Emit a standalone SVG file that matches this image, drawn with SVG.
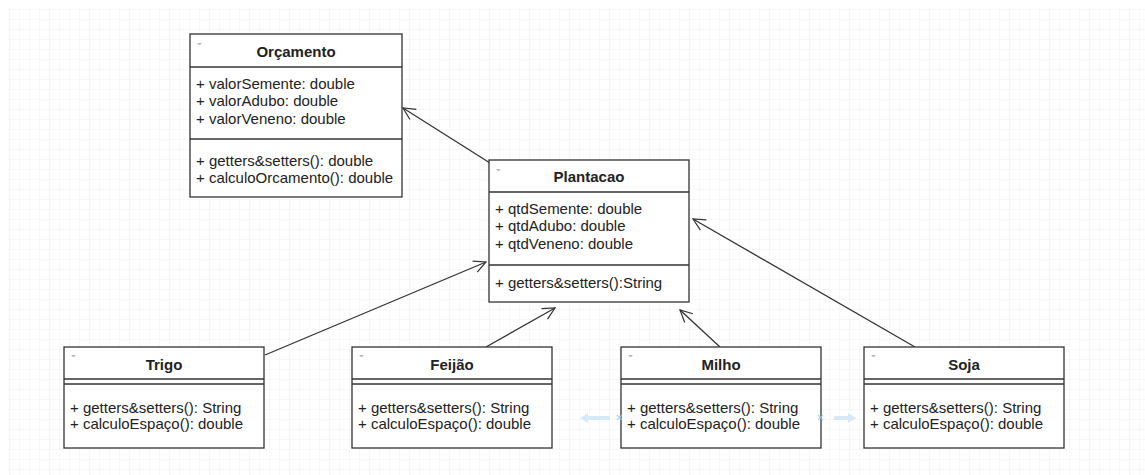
<svg xmlns="http://www.w3.org/2000/svg" width="1145" height="475" viewBox="0 0 1145 475">
  <defs>
    <pattern id="minor" width="10" height="10" patternUnits="userSpaceOnUse">
      <path d="M10 0V10M0 10H10" fill="none" stroke="#f0f0f0" stroke-width="1"/>
    </pattern>
    <pattern id="major" x="-10" y="10" width="50" height="50" patternUnits="userSpaceOnUse">
      <rect width="50" height="50" fill="url(#minor)"/>
      <path d="M50.5 0V50M0 50.5H50" fill="none" stroke="#e0e0e0" stroke-width="1"/>
    </pattern>
    <marker id="open" viewBox="0 0 14 14" refX="13" refY="7" markerWidth="14" markerHeight="14" markerUnits="userSpaceOnUse" orient="auto">
      <path d="M1 1L13 7L1 13" fill="none" stroke="#333" stroke-width="1.2"/>
    </marker>
  </defs>
  <style>
    .box { fill: #fff; stroke: #333; stroke-width: 1.3; }
    .sep { stroke: #333; stroke-width: 1.3; }
    .title { font-family: "Liberation Sans", Arial, sans-serif; font-size: 15px; font-weight: bold; fill: #222; text-anchor: middle; }
    .mem { font-family: "Liberation Sans", Arial, sans-serif; font-size: 15px; fill: #222; }
    .tog { fill: #bbb; }
    .edge { fill: none; stroke: #333; stroke-width: 1.3; marker-end: url(#open); }
    .hint { fill: #cfe6f7; }
    .hintx { stroke: #9fcde8; stroke-width: 1.2; }
  </style>

  <!-- background grid -->
  <rect width="1145" height="475" fill="#fff"/>
  <rect x="8" y="8" width="1137" height="467" fill="url(#major)"/>

  <!-- connectors -->
  <g id="connectors">
    <line class="edge" x1="490" y1="163" x2="403" y2="108"/>
    <line class="edge" x1="265" y1="355" x2="486" y2="262"/>
    <line class="edge" x1="486" y1="347" x2="555" y2="308"/>
    <line class="edge" x1="720" y1="347" x2="680" y2="310"/>
    <line class="edge" x1="915" y1="347" x2="693" y2="219"/>
  </g>

  <!-- Orçamento -->
  <g id="orcamento">
    <rect class="box" x="190" y="34" width="212" height="163"/>
    <line class="sep" x1="190" y1="67" x2="402" y2="67"/>
    <line class="sep" x1="190" y1="139" x2="402" y2="139"/>
    <path class="tog" d="M197 43h5l-2.5 2.5z"/>
    <text class="title" x="296" y="57">Orçamento</text>
    <text class="mem" x="196" y="89">+ valorSemente: double</text>
    <text class="mem" x="196" y="106">+ valorAdubo: double</text>
    <text class="mem" x="196" y="124">+ valorVeneno: double</text>
    <text class="mem" x="196" y="166">+ getters&amp;setters(): double</text>
    <text class="mem" x="196" y="183">+ calculoOrcamento(): double</text>
  </g>

  <!-- Plantacao -->
  <g id="plantacao">
    <rect class="box" x="489" y="160" width="200" height="142"/>
    <line class="sep" x1="489" y1="192" x2="689" y2="192"/>
    <line class="sep" x1="489" y1="265" x2="689" y2="265"/>
    <path class="tog" d="M496 169h5l-2.5 2.5z"/>
    <text class="title" x="589" y="182">Plantacao</text>
    <text class="mem" x="495" y="214">+ qtdSemente: double</text>
    <text class="mem" x="495" y="231">+ qtdAdubo: double</text>
    <text class="mem" x="495" y="249">+ qtdVeneno: double</text>
    <text class="mem" x="495" y="288">+ getters&amp;setters():String</text>
  </g>

  <!-- Trigo -->
  <g id="trigo">
    <rect class="box" x="64" y="347" width="200" height="101"/>
    <line class="sep" x1="64" y1="379" x2="264" y2="379"/>
    <line class="sep" x1="64" y1="384" x2="264" y2="384"/>
    <path class="tog" d="M71 355h5l-2.5 2.5z"/>
    <text class="title" x="164" y="370">Trigo</text>
    <text class="mem" x="70" y="413">+ getters&amp;setters(): String</text>
    <text class="mem" x="70" y="429">+ calculoEspaço(): double</text>
  </g>

  <!-- Feijão -->
  <g id="feijao">
    <rect class="box" x="352" y="347" width="200" height="101"/>
    <line class="sep" x1="352" y1="379" x2="552" y2="379"/>
    <line class="sep" x1="352" y1="384" x2="552" y2="384"/>
    <path class="tog" d="M359 355h5l-2.5 2.5z"/>
    <text class="title" x="452" y="370">Feijão</text>
    <text class="mem" x="358" y="413">+ getters&amp;setters(): String</text>
    <text class="mem" x="358" y="429">+ calculoEspaço(): double</text>
  </g>

  <!-- Milho -->
  <g id="milho">
    <rect class="box" x="621" y="347" width="200" height="101"/>
    <line class="sep" x1="621" y1="379" x2="821" y2="379"/>
    <line class="sep" x1="621" y1="384" x2="821" y2="384"/>
    <path class="tog" d="M628 355h5l-2.5 2.5z"/>
    <text class="title" x="721" y="370">Milho</text>
    <text class="mem" x="627" y="413">+ getters&amp;setters(): String</text>
    <text class="mem" x="627" y="429">+ calculoEspaço(): double</text>
  </g>

  <!-- Soja -->
  <g id="soja">
    <rect class="box" x="864" y="347" width="200" height="101"/>
    <line class="sep" x1="864" y1="379" x2="1064" y2="379"/>
    <line class="sep" x1="864" y1="384" x2="1064" y2="384"/>
    <path class="tog" d="M871 355h5l-2.5 2.5z"/>
    <text class="title" x="964" y="370">Soja</text>
    <text class="mem" x="870" y="413">+ getters&amp;setters(): String</text>
    <text class="mem" x="870" y="429">+ calculoEspaço(): double</text>
  </g>

  <!-- faint hover hints between boxes -->
  <g id="hints" opacity="0.8">
    <path class="hint" d="M580 418l8-5v3h22v4h-22v3z"/>
    <path class="hint" d="M834 416h14v-3l8 5l-8 5v-3h-14z"/>
    <path class="hintx" d="M617 415l5 5M622 415l-5 5"/>
    <path class="hintx" d="M818 415l5 5M823 415l-5 5"/>
  </g>
</svg>
